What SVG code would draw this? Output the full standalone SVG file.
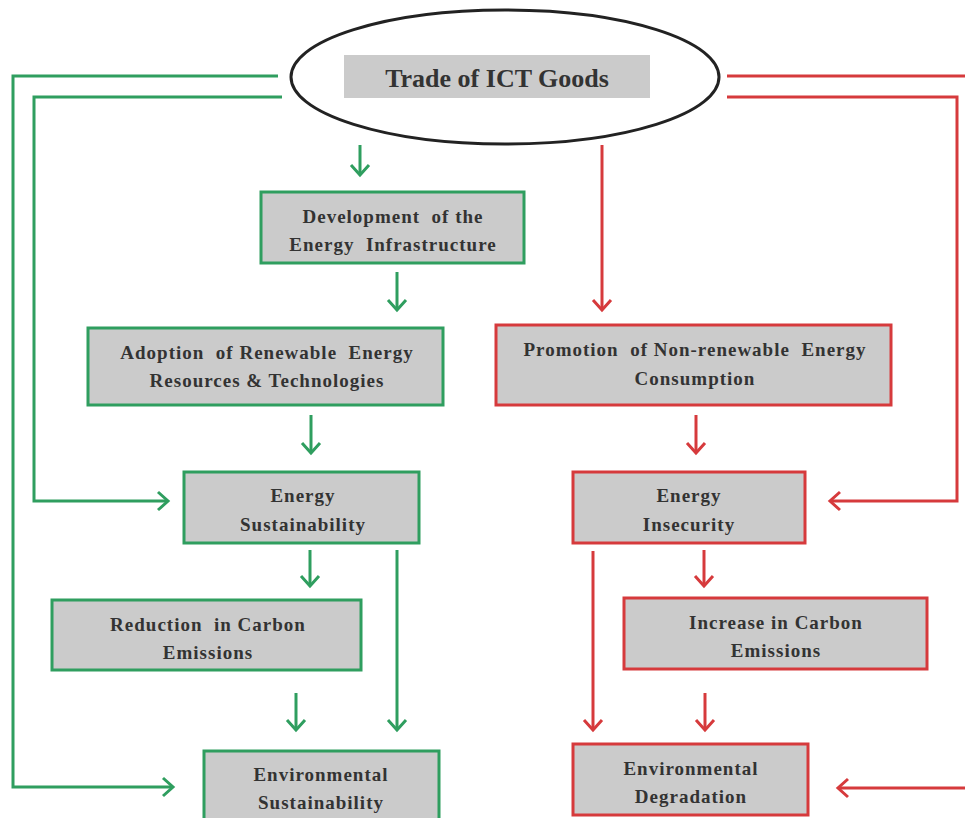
<svg xmlns="http://www.w3.org/2000/svg" width="965" height="818" viewBox="0 0 965 818">
<style>
.g{stroke:#2f9e5f;}
.r{stroke:#d63a3c;}
.box{fill:#cbcbcb;stroke-width:3;}
.ln{fill:none;stroke-width:3;}
text{font-family:"Liberation Serif","Times New Roman",serif;font-weight:bold;font-size:19px;fill:#333;text-anchor:middle;letter-spacing:1px;white-space:pre;}
</style>
<defs>
<marker id="ag" markerWidth="24" markerHeight="24" refX="12" refY="12" orient="auto" markerUnits="userSpaceOnUse"><polyline points="2,3 12,12 2,21" fill="none" stroke="#2f9e5f" stroke-width="3"/></marker>
<marker id="ar" markerWidth="24" markerHeight="24" refX="12" refY="12" orient="auto" markerUnits="userSpaceOnUse"><polyline points="2,3 12,12 2,21" fill="none" stroke="#d63a3c" stroke-width="3"/></marker>
</defs>
<rect width="965" height="818" fill="#fff"/>
<g id="connectors">
<polyline class="ln g" points="278,76 13,76 13,787 173,787" marker-end="url(#ag)"/>
<polyline class="ln g" points="282,97 34,97 34,501 168,501" marker-end="url(#ag)"/>
<polyline class="ln r" points="727,76 965,76"/>
<polyline class="ln r" points="727,97 957,97 957,501 830,501" marker-end="url(#ar)"/>
<polyline class="ln r" points="965,788 838,788" marker-end="url(#ar)"/>
<line class="ln g" x1="360" y1="145" x2="360" y2="175" marker-end="url(#ag)"/>
<line class="ln r" x1="602" y1="145" x2="602" y2="310" marker-end="url(#ar)"/>
<line class="ln g" x1="397" y1="272" x2="397" y2="310" marker-end="url(#ag)"/>
<line class="ln g" x1="311" y1="415" x2="311" y2="453" marker-end="url(#ag)"/>
<line class="ln r" x1="696" y1="415" x2="696" y2="453" marker-end="url(#ar)"/>
<line class="ln g" x1="310" y1="550" x2="310" y2="586" marker-end="url(#ag)"/>
<line class="ln g" x1="397" y1="550" x2="397" y2="730" marker-end="url(#ag)"/>
<line class="ln g" x1="296" y1="693" x2="296" y2="730" marker-end="url(#ag)"/>
<line class="ln r" x1="593" y1="551" x2="593" y2="730" marker-end="url(#ar)"/>
<line class="ln r" x1="704" y1="550" x2="704" y2="586" marker-end="url(#ar)"/>
<line class="ln r" x1="705" y1="693" x2="705" y2="730" marker-end="url(#ar)"/>
</g>
<g id="trade">
<ellipse cx="505" cy="77" rx="214" ry="67" fill="#fff" stroke="#222" stroke-width="3"/>
<rect x="344" y="55" width="306" height="43" fill="#cbcbcb"/>
<text x="497" y="87" style="font-size:26px;letter-spacing:0">Trade of ICT Goods</text>
</g>
<g id="dev">
<rect class="box g" x="261" y="192" width="263" height="71"/>
<text x="393" y="223">Development  of the</text>
<text x="393" y="251">Energy  Infrastructure</text>
</g>
<g id="adopt">
<rect class="box g" x="88" y="328" width="355" height="77"/>
<text x="267" y="359">Adoption  of Renewable  Energy</text>
<text x="267" y="387">Resources &amp; Technologies</text>
</g>
<g id="promo">
<rect class="box r" x="496" y="325" width="395" height="80"/>
<text x="695" y="356">Promotion  of Non-renewable  Energy</text>
<text x="695" y="385">Consumption</text>
</g>
<g id="esust">
<rect class="box g" x="184" y="472" width="235" height="71"/>
<text x="303" y="502">Energy</text>
<text x="303" y="531">Sustainability</text>
</g>
<g id="einsec">
<rect class="box r" x="573" y="472" width="232" height="71"/>
<text x="689" y="502">Energy</text>
<text x="689" y="531">Insecurity</text>
</g>
<g id="reduce">
<rect class="box g" x="52" y="600" width="309" height="70"/>
<text x="208" y="631">Reduction  in Carbon</text>
<text x="208" y="659">Emissions</text>
</g>
<g id="increase">
<rect class="box r" x="624" y="598" width="303" height="71"/>
<text x="776" y="629">Increase in Carbon</text>
<text x="776" y="657">Emissions</text>
</g>
<g id="envsust">
<rect class="box g" x="204" y="751" width="235" height="80"/>
<text x="321" y="781">Environmental</text>
<text x="321" y="809">Sustainability</text>
</g>
<g id="envdeg">
<rect class="box r" x="573" y="744" width="235" height="71"/>
<text x="691" y="775">Environmental</text>
<text x="691" y="803">Degradation</text>
</g>
</svg>
